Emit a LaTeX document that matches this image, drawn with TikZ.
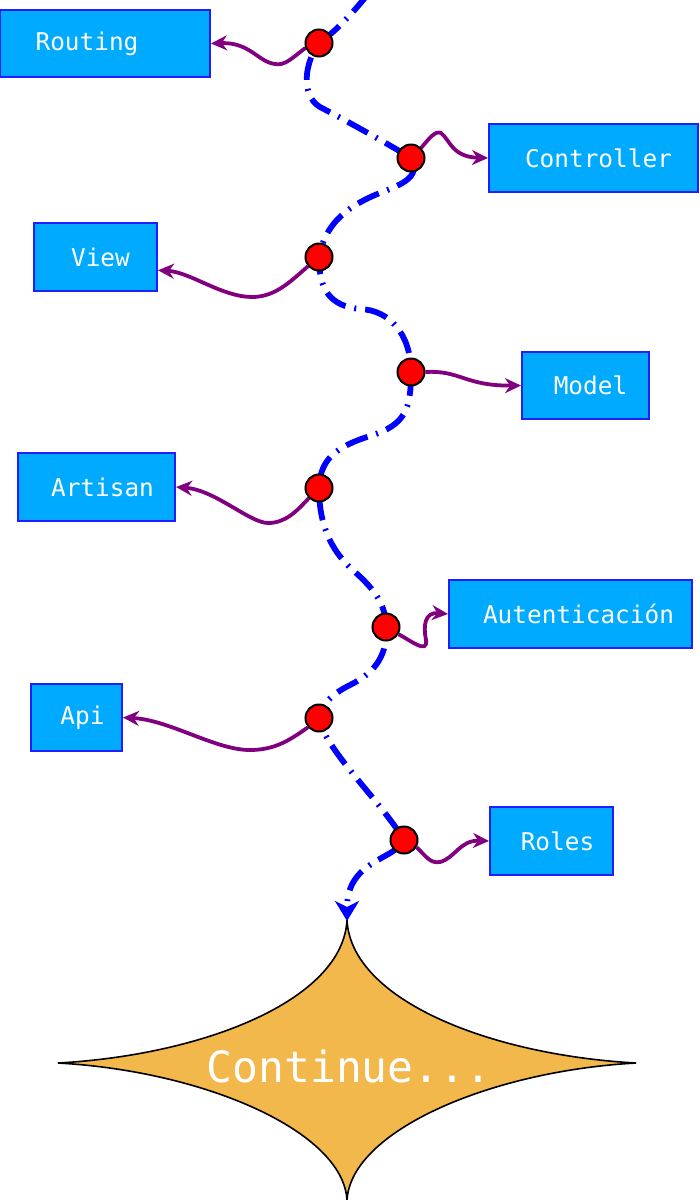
\documentclass[tikz,border=0pt]{standalone}
\usepackage{fontspec}
\setmonofont{DejaVu Sans Mono}
\usetikzlibrary{arrows.meta}
\pgfdeclarelayer{bg}
\pgfsetlayers{bg,main}
\definecolor{boxfill}{RGB}{0,170,255}
\definecolor{boxline}{RGB}{30,30,255}
\definecolor{starfill}{RGB}{242,184,75}
\definecolor{linkcol}{RGB}{128,0,128}
\begin{document}
\begin{tikzpicture}[x=0.5pt,y=-0.5pt,
  boxnode/.style={draw=boxline, line width=1pt, fill=boxfill, text=white,
    font=\ttfamily\fontsize{12.2}{14}\selectfont, inner sep=0pt},
  dotnode/.style={circle, draw=black, line width=1pt, fill=red,
    minimum size=13.5pt, inner sep=0pt},
  link/.style={draw=linkcol, line width=1.9pt, -{Stealth[length=8pt,width=7.5pt]}},
  spine/.style={draw=blue, line width=2.9pt,
    dash pattern=on 11.5pt off 4.5pt on 1pt off 4.5pt,
    -{Stealth[length=10pt,width=12pt,inset=3pt]}},
  startext/.style={text=white, font=\ttfamily\fontsize{21.5}{26}\selectfont, inner sep=0pt}
]
\useasboundingbox (0,0) rectangle (700,1200);

% boxes
\node[boxnode, minimum width=105pt, minimum height=33.5pt] (routing) at (105,43.5) {Routing\hspace*{18pt}};
\node[boxnode, minimum width=104.5pt, minimum height=34pt] (controller) at (593.5,158) {\hspace*{5pt}Controller};
\node[boxnode, minimum width=61.5pt, minimum height=34pt] (view) at (95.5,257) {\hspace*{5pt}View};
\node[boxnode, minimum width=63.5pt, minimum height=33.5pt] (model) at (585.5,385.5) {\hspace*{5pt}Model};
\node[boxnode, minimum width=78.5pt, minimum height=34pt] (artisan) at (96.5,487) {\hspace*{6pt}Artisan};
\node[boxnode, minimum width=121.5pt, minimum height=34pt] (autent) at (570.5,614) {\hspace*{8pt}Autenticación};
\node[boxnode, minimum width=45.5pt, minimum height=33.5pt] (api) at (76.5,717.5) {\hspace*{6pt}Api};
\node[boxnode, minimum width=61.5pt, minimum height=34pt] (roles) at (551.5,841) {\hspace*{6pt}Roles};

% dots
\node[dotnode] (d1) at (319,43) {};
\node[dotnode] (d2) at (411,158) {};
\node[dotnode] (d3) at (319,257) {};
\node[dotnode] (d4) at (411,372) {};
\node[dotnode] (d5) at (319,488) {};
\node[dotnode] (d6) at (386,627) {};
\node[dotnode] (d7) at (319,718) {};
\node[dotnode] (d8) at (404,840) {};

\coordinate (top) at (368,-6);
\coordinate (cusp) at (347,921);

\node[startext] (cont) at (349,1066) {Continue...};

\begin{pgfonlayer}{bg}
% star shape
\draw[fill=starfill, draw=black, line width=0.8pt]
  (347,920) .. controls (351,1000) and (490,1055) .. (636,1063)
  .. controls (490,1071) and (351,1131) .. (347,1200)
  .. controls (343,1131) and (204,1071) .. (58,1063)
  .. controls (204,1055) and (343,1000) .. cycle;

% spine
\draw[spine] (top) .. controls (352,14) and (335,32) .. (d1.center)
  .. controls (305,62) and (300,95) .. (320,107)
  .. controls (345,120) and (390,145) .. (d2.center)
  .. controls (422,178) and (400,185) .. (375,195)
  .. controls (345,208) and (325,225) .. (d3.center)
  .. controls (319,290) and (330,306) .. (360,309)
  .. controls (390,310) and (411,335) .. (d4.center)
  .. controls (411,410) and (405,425) .. (370,436)
  .. controls (335,447) and (320,460) .. (d5.center)
  .. controls (319,530) and (335,555) .. (355,572)
  .. controls (375,590) and (386,605) .. (d6.center)
  .. controls (388,660) and (370,675) .. (350,685)
  .. controls (330,695) and (322,705) .. (d7.center)
  .. controls (325,750) and (380,800) .. (d8.center)
  .. controls (395,860) and (347,860) .. (cusp);

% links
\draw[link] (d1.200) .. controls (292,58) and (285,66) .. (275,64)
  .. controls (258,62) and (250,42) .. (routing.east);
\draw[link] (d2.45) .. controls (428,140) and (435,130) .. (441,133)
  .. controls (450,140) and (452,157) .. (controller.west);
\draw[link] (d3.220) .. controls (290,282) and (275,297) .. (252,297)
  .. controls (222,297) and (190,272) .. (view.-12);
\draw[link] (d4.east) .. controls (460,370) and (465,386) .. (model.west);
\draw[link] (d5.225) .. controls (296,512) and (285,523) .. (268,523)
  .. controls (250,523) and (215,490) .. (artisan.east);
\draw[link] (d6.-30) .. controls (410,640) and (428,655) .. (426,640)
  .. controls (423,625) and (425,612) .. (autent.west);
\draw[link] (d7.220) .. controls (290,740) and (275,750) .. (250,750)
  .. controls (215,750) and (170,720) .. (api.east);
\draw[link] (d8.-30) .. controls (425,855) and (430,864) .. (440,862)
  .. controls (455,858) and (460,840) .. (roles.west);
\end{pgfonlayer}
\end{tikzpicture}
\end{document}
